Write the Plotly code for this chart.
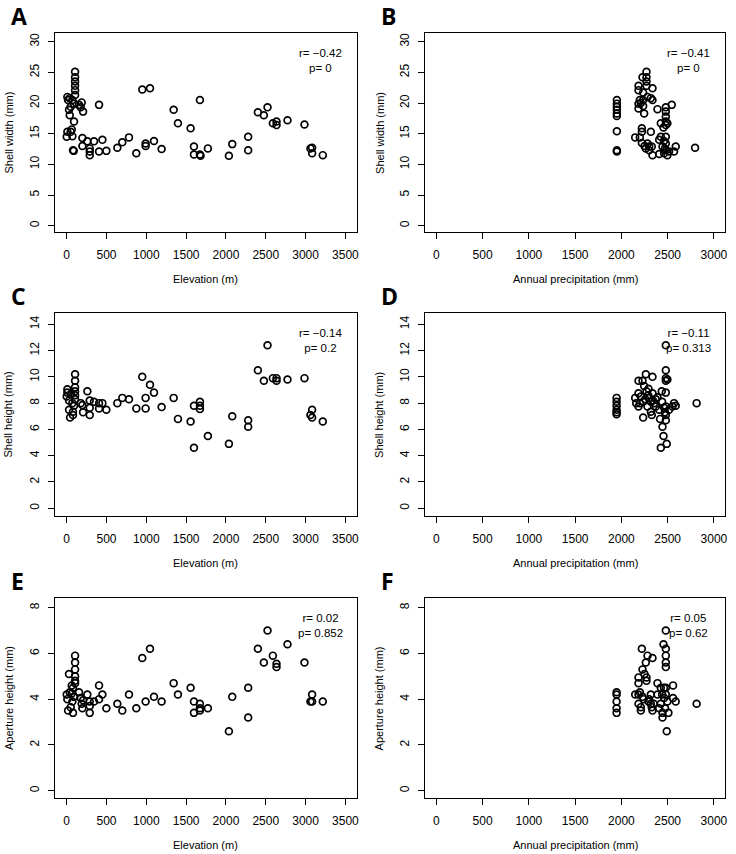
import plotly.graph_objects as go

# Panel A: elevation (m) vs shell width (mm)
elev_A = [8, 17, 38, 50, 38, 29, 71, 92, 105, 105, 105, 105, 105, 105, 92, 8, 0, 50, 63, 71,
          79, 88, 155, 188, 176, 205, 197, 197, 259, 289, 289, 289, 343, 406, 406, 448, 498,
          636, 698, 782, 874, 949, 991, 991, 1046, 1096, 1192, 1343, 1397, 1556, 1598, 1598,
          1673, 1673, 1681, 1773, 2037, 2079, 2279, 2279, 2401, 2476, 2522, 2589, 2635, 2635,
          2773, 2986, 3061, 3082, 3082, 3216]
width_A = [21.0, 20.5, 20.8, 19.4, 18.0, 18.9, 20.5, 19.9, 25.1, 24.2, 23.5, 22.8, 22.1, 21.3,
           17.0, 15.3, 14.5, 15.3, 15.7, 14.6, 12.3, 12.2, 19.7, 20.1, 19.3, 18.6, 14.3, 13.0,
           13.75, 12.6, 12.1, 11.5, 13.75, 19.7, 12.1, 14.0, 12.2, 12.7, 13.6, 14.4, 11.8, 22.2,
           13.4, 13.0, 22.4, 13.8, 12.5, 18.9, 16.7, 15.9, 12.9, 11.6, 20.5, 11.6, 11.4, 12.6,
           11.4, 13.3, 14.5, 12.3, 18.5, 18.0, 19.3, 16.7, 17.0, 16.4, 17.2, 16.5, 12.6, 12.7,
           11.8, 11.5]

# Panel B: annual precipitation (mm) vs shell width (mm)
prec_B = [1951, 1951, 1951, 1951, 1951, 1951, 1951, 1951, 1951, 2149, 2185, 2185, 2199, 2185,
          2185, 2199, 2221, 2221, 2221, 2228, 2235, 2235, 2235, 2246, 2264, 2271, 2271, 2271,
          2271, 2282, 2282, 2300, 2318, 2318, 2328, 2336, 2336, 2336, 2390, 2408, 2408, 2426,
          2426, 2444, 2455, 2462, 2480, 2480, 2480, 2480, 2480, 2497, 2480, 2480, 2480, 2497,
          2515, 2544, 2569, 2587, 2796, 2210, 2250, 2300, 2460, 2470]
width_B = [20.5, 19.9, 19.4, 18.9, 18.3, 17.9, 15.4, 12.3, 12.1, 14.4, 22.8, 22.1, 20.5, 19.9,
           19.1, 14.4, 15.9, 15.3, 13.5, 24.2, 21.7, 20.5, 19.5, 18.3, 12.6, 25.1, 24.2, 23.5,
           22.8, 21.0, 13.4, 12.9, 20.8, 15.3, 12.9, 22.4, 20.5, 11.5, 19.0, 14.0, 11.7, 14.5,
           16.7, 12.9, 16.0, 11.8, 19.3, 18.6, 17.8, 17.0, 16.4, 16.7, 14.5, 13.4, 12.3, 11.5,
           12.1, 19.7, 12.1, 12.9, 12.7, 20.0, 13.0, 12.3, 13.8, 12.6]

# Panel C: elevation (m) vs shell height (mm)
elev_C = [8, 0, 8, 29, 29, 42, 50, 71, 79, 92, 105, 105, 105, 105, 105, 105, 79, 176, 197, 205,
          259, 289, 289, 289, 343, 406, 406, 448, 498, 636, 698, 782, 874, 949, 991, 991, 1046,
          1096, 1192, 1343, 1397, 1556, 1598, 1598, 1673, 1673, 1673, 1773, 2037, 2079, 2279,
          2279, 2401, 2476, 2522, 2589, 2635, 2635, 2773, 2986, 3061, 3082, 3082, 3216]
height_C = [9.05, 8.5, 8.8, 8.2, 7.5, 6.9, 8.7, 8.0, 7.35, 7.8, 10.2, 9.7, 9.2, 8.9, 8.6, 8.3,
            7.1, 8.0, 7.85, 7.3, 8.9, 8.2, 7.65, 7.1, 8.1, 8.0, 7.6, 8.0, 7.5, 8.0, 8.4, 8.3,
            7.6, 10.0, 8.4, 7.6, 9.4, 8.8, 7.7, 8.4, 6.8, 6.6, 7.8, 4.6, 8.1, 7.8, 7.55, 5.5,
            4.9, 7.0, 6.7, 6.2, 10.5, 9.7, 12.4, 9.9, 9.9, 9.7, 9.8, 9.9, 7.1, 7.5, 6.9, 6.6]

# Panel D: annual precipitation (mm) vs shell height (mm)
prec_D = [1948, 1948, 1948, 1948, 1948, 1948, 2149, 2185, 2185, 2185, 2210, 2228, 2235, 2235,
          2246, 2264, 2271, 2282, 2293, 2300, 2318, 2318, 2328, 2336, 2336, 2354, 2372, 2390,
          2408, 2418, 2426, 2436, 2444, 2455, 2462, 2480, 2480, 2480, 2480, 2480, 2480, 2480,
          2480, 2490, 2497, 2515, 2551, 2569, 2587, 2813, 2160, 2200, 2258, 2290, 2340, 2372,
          2440, 2470]
height_D = [8.4, 8.1, 7.8, 7.5, 7.3, 7.15, 8.4, 9.7, 8.75, 7.75, 8.5, 9.7, 8.1, 6.9, 9.3, 10.2,
            8.9, 7.75, 9.1, 8.4, 8.1, 7.35, 7.1, 10.0, 8.75, 8.0, 7.75, 8.45, 7.5, 6.8, 4.6,
            8.9, 6.2, 5.5, 7.65, 12.4, 10.5, 9.9, 9.7, 8.8, 7.75, 7.1, 6.7, 4.9, 9.8, 7.5, 7.75,
            8.0, 7.8, 8.0, 8.0, 8.0, 8.3, 8.6, 8.2, 8.3, 8.1, 7.3]

# Panel E: elevation (m) vs aperture height (mm)
elev_E = [0, 8, 17, 29, 38, 50, 63, 63, 71, 79, 79, 92, 105, 105, 105, 105, 105, 105, 92, 155,
          176, 188, 197, 205, 259, 289, 289, 289, 343, 406, 406, 448, 498, 636, 698, 782, 874,
          949, 991, 1046, 1096, 1192, 1343, 1397, 1556, 1598, 1598, 1673, 1673, 1673, 1773,
          2037, 2079, 2279, 2279, 2401, 2476, 2522, 2589, 2635, 2635, 2773, 2986, 3061, 3082,
          3082, 3216]
aperture_E = [4.2, 4.0, 3.5, 5.1, 4.3, 3.65, 4.25, 4.6, 3.9, 4.5, 3.4, 4.1, 5.9, 5.6, 5.3, 5.0,
              4.8, 4.7, 4.1, 4.3, 4.05, 3.8, 3.6, 3.95, 4.2, 3.9, 3.7, 3.4, 3.9, 4.6, 4.0, 4.2,
              3.6, 3.8, 3.5, 4.2, 3.6, 5.8, 3.9, 6.2, 4.1, 3.9, 4.7, 4.2, 4.5, 3.9, 3.4, 3.8,
              3.6, 3.5, 3.6, 2.6, 4.1, 4.5, 3.2, 6.2, 5.6, 7.0, 5.9, 5.55, 5.4, 6.4, 5.6, 3.9,
              4.2, 3.9, 3.9]

# Panel F: annual precipitation (mm) vs aperture height (mm)
prec_F = [1948, 1948, 1948, 1948, 1948, 2149, 2185, 2185, 2185, 2185, 2210, 2210, 2221, 2228,
          2228, 2250, 2264, 2271, 2271, 2282, 2293, 2318, 2318, 2328, 2336, 2336, 2390, 2390,
          2408, 2426, 2426, 2444, 2444, 2455, 2462, 2472, 2480, 2480, 2480, 2480, 2480, 2480,
          2480, 2490, 2497, 2508, 2558, 2558, 2587, 2813, 2200, 2240, 2300, 2350, 2440, 2460]
aperture_F = [4.3, 4.2, 3.9, 3.6, 3.4, 4.2, 4.95, 4.7, 4.2, 3.8, 3.65, 3.5, 6.2, 5.3, 4.1, 5.1,
              5.6, 4.95, 4.8, 5.9, 3.9, 4.2, 3.8, 3.65, 5.8, 3.5, 4.7, 4.2, 3.6, 4.5, 3.8, 3.4,
              3.2, 6.4, 4.05, 3.6, 7.0, 6.2, 5.9, 5.6, 5.4, 4.5, 4.2, 2.6, 3.9, 3.4, 4.6, 4.05,
              3.9, 3.8, 4.3, 4.0, 4.0, 3.8, 4.2, 4.5]

panel_letters = ["A", "B", "C", "D", "E", "F"]
stats_text = ["r= \u22120.42<br>p= 0", "r= \u22120.41<br>p= 0",
              "r= \u22120.14<br>p= 0.2", "r= \u22120.11<br>p= 0.313",
              "r= 0.02<br>p= 0.852", "r= 0.05<br>p= 0.62"]
x_titles = ["Elevation (m)", "Annual precipitation (mm)"] * 3
y_titles = ["Shell width (mm)"] * 2 + ["Shell height (mm)"] * 2 + ["Aperture height (mm)"] * 2
elev_ticks = [0, 500, 1000, 1500, 2000, 2500, 3000, 3500]
prec_ticks = [0, 500, 1000, 1500, 2000, 2500, 3000]
width_ticks = [0, 5, 10, 15, 20, 25, 30]
height_ticks = [0, 2, 4, 6, 8, 10, 12, 14]
aperture_ticks = [0, 2, 4, 6, 8]

W, H = 736, 854
FONT = "Liberation Sans, Arial, Helvetica, sans-serif"


def px(v):
    return v / W


def py(v):
    return 1 - v / H


xs = [elev_A, prec_B, elev_C, prec_D, elev_E, prec_F]
ys = [width_A, width_B, height_C, height_D, aperture_E, aperture_F]

# pixel boxes of the plot areas: (left, right) and (top, bottom)
cols = [(55, 358), (427, 728)]
rows = [(33, 232), (313, 516), (598, 798)]
x_ranges = [[-150, 3640], [-120, 3120]]
y_ranges = [[-1.03, 31.42], [-0.59, 14.86], [-0.32, 8.42]]
x_tick_sets = [elev_ticks, prec_ticks]
y_tick_sets = [width_ticks, height_ticks, aperture_ticks]

fig = go.Figure()
layout = {}
annotations = []

for i in range(6):
    r, c = divmod(i, 2)
    left, right = cols[c]
    top, bottom = rows[r]
    sfx = "" if i == 0 else str(i + 1)
    fig.add_trace(go.Scatter(
        x=xs[i], y=ys[i], mode="markers",
        marker=dict(symbol="circle-open", size=6.8, color="black",
                    line=dict(width=1.7, color="black")),
        xaxis="x" + sfx, yaxis="y" + sfx, showlegend=False, hoverinfo="x+y"))

    layout["xaxis" + sfx] = dict(
        domain=[px(left), px(right)], anchor="y" + sfx, range=x_ranges[c],
        tickvals=x_tick_sets[c], ticks="outside", ticklen=6, tickwidth=1,
        tickcolor="black", showline=True, mirror=True, linecolor="black",
        linewidth=1.3, showgrid=False, zeroline=False, ticklabelstandoff=5,
        tickfont=dict(family=FONT, size=12, color="black"))
    layout["yaxis" + sfx] = dict(
        domain=[py(bottom), py(top)], anchor="x" + sfx, range=y_ranges[r],
        tickvals=y_tick_sets[r], ticks="outside", ticklen=6, tickwidth=1,
        tickcolor="black", showline=True, mirror=True, linecolor="black",
        linewidth=1.3, showgrid=False, zeroline=False, tickangle=-90,
        ticklabelstandoff=4, tickfont=dict(family=FONT, size=12, color="black"))

    # panel letter
    annotations.append(dict(
        text="<b>%s</b>" % panel_letters[i], xref="paper", yref="paper",
        x=px(left - 46), y=py(top - 17), xanchor="left", yanchor="middle",
        showarrow=False, font=dict(family="Open Sans, sans-serif", size=23, color="black")))
    # r and p values
    annotations.append(dict(
        text=stats_text[i], xref="paper", yref="paper",
        x=px(right - 36.5), y=py(top + 27.5), xanchor="center", yanchor="middle",
        align="center", showarrow=False,
        font=dict(family=FONT, size=11.5, color="black")))
    # axis titles
    annotations.append(dict(
        text=x_titles[i], xref="paper", yref="paper",
        x=px((left + right) / 2), y=py(bottom + 47), xanchor="center",
        yanchor="middle", showarrow=False, font=dict(family=FONT, size=11, color="black")))
    annotations.append(dict(
        text=y_titles[i], xref="paper", yref="paper", textangle=-90,
        x=px(left - 46), y=py((top + bottom) / 2), xanchor="center",
        yanchor="middle", showarrow=False, font=dict(family=FONT, size=11, color="black")))

fig.update_layout(
    width=W, height=H, margin=dict(l=0, r=0, t=0, b=0),
    paper_bgcolor="white", plot_bgcolor="white",
    annotations=annotations, **layout)

# drop the browser's default 8px body margin so the figure fills the window
fig.write_html("out.html", config={"displayModeBar": False},
               post_script="document.body.style.margin = '0';")
